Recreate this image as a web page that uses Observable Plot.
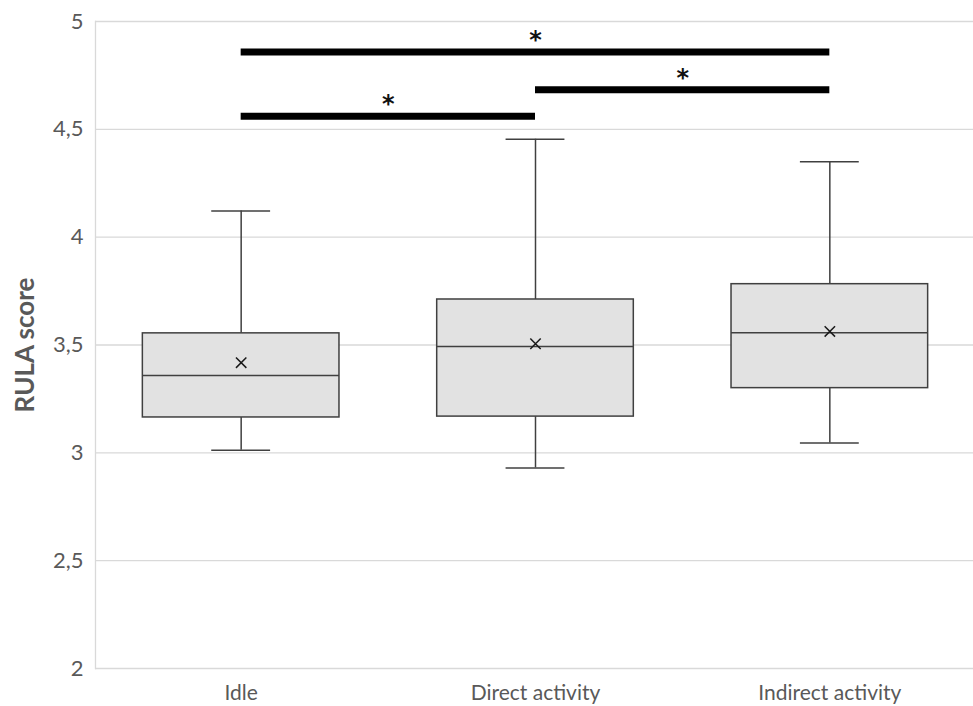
<!DOCTYPE html>
<html>
<head>
<meta charset="utf-8">
<script src="https://cdn.jsdelivr.net/npm/d3@7"></script>
<script src="https://cdn.jsdelivr.net/npm/@observablehq/plot@0.6"></script>
<style>
  html, body { margin: 0; padding: 0; background: #fff; overflow: hidden; }
</style>
</head>
<body>
<div id="chart"></div>
<script>
// ---- data ----
const groups = ["Idle", "Direct activity", "Indirect activity"];
const whiskerLow = [3.012, 2.930, 3.046];
const q1 = [3.164, 3.168, 3.300];
const median = [3.359, 3.493, 3.557];
const q3 = [3.554, 3.711, 3.782];
const whiskerHigh = [4.121, 4.454, 4.350];
const means = [3.418, 3.506, 3.563];

const sigFrom = ["Idle", "Direct activity", "Idle"];
const sigTo = ["Direct activity", "Indirect activity", "Indirect activity"];
const sigY = [4.561, 4.684, 4.858];
const sigMark = ["*", "*", "*"];

const yTicks = [2, 2.5, 3, 3.5, 4, 4.5, 5];
const yLabel = "RULA score";

// ---- tables built from the arrays ----
const boxes = groups.map((g, i) => ({
  i, g, lo: whiskerLow[i], q1: q1[i], med: median[i], q3: q3[i], hi: whiskerHigh[i], mean: means[i]
}));
const sig = sigFrom.map((f, k) => ({
  a: groups.indexOf(f), b: groups.indexOf(sigTo[k]), y: sigY[k], t: sigMark[k]
}));

const BOX = 0.334, CAP = 0.1;
const ink = "#404040";
const textCol = "#595959";

const chart = Plot.plot({
  width: 973,
  height: 706,
  marginLeft: 95,
  marginRight: 0,
  marginTop: 21,
  marginBottom: 38,
  style: { fontFamily: "Lato, 'Noto Sans', sans-serif", fontSize: "22px", background: "#fff", color: textCol },
  x: { type: "linear", domain: [-0.5, 2.5], range: [93.5, 976.5] },
  y: { domain: [2, 5] },
  marks: [
    Plot.ruleY(yTicks, { stroke: "#d9d9d9", strokeWidth: 1.3 }),
    Plot.frame({ anchor: "left", stroke: "#d9d9d9", strokeWidth: 1.3 }),
    // whiskers
    Plot.ruleX(boxes, { x: "i", y1: "q3", y2: "hi", stroke: ink, strokeWidth: 1.5 }),
    Plot.ruleX(boxes, { x: "i", y1: "lo", y2: "q1", stroke: ink, strokeWidth: 1.5 }),
    Plot.ruleY(boxes, { y: "hi", x1: d => d.i - CAP, x2: d => d.i + CAP, stroke: ink, strokeWidth: 1.5 }),
    Plot.ruleY(boxes, { y: "lo", x1: d => d.i - CAP, x2: d => d.i + CAP, stroke: ink, strokeWidth: 1.5 }),
    // boxes
    Plot.rectY(boxes, { x1: d => d.i - BOX, x2: d => d.i + BOX, y1: "q1", y2: "q3", fill: "#e2e2e2", stroke: ink, strokeWidth: 1.5 }),
    Plot.ruleY(boxes, { y: "med", x1: d => d.i - BOX, x2: d => d.i + BOX, stroke: ink, strokeWidth: 1.5 }),
    Plot.dot(boxes, { x: "i", y: "mean", symbol: "times", r: 4.8, stroke: "#1a1a1a", strokeWidth: 1.5 }),
    // significance bars
    Plot.ruleY(sig, { y: "y", x1: "a", x2: "b", stroke: "#000", strokeWidth: 7 }),
    Plot.text(sig, { x: d => (d.a + d.b) / 2, y: "y", text: "t", lineAnchor: "bottom", dy: -4, fontSize: 24, fontWeight: "bold", fontFamily: "DejaVu Sans", fill: "#111" }),
    // axes
    Plot.axisY({ ticks: yTicks, tickSize: 0, tickPadding: 12, tickFormat: d => String(d).replace(".", ","), fontSize: 22, fill: textCol, label: null }),
    Plot.axisX({ ticks: [0, 1, 2], tickSize: 0, tickPadding: 17, tickFormat: i => groups[i], fontSize: 21, fill: textCol, label: null }),
    Plot.text([yLabel], { frameAnchor: "left", text: d => d, rotate: -90, dx: -70, textAnchor: "middle", lineAnchor: "middle", fontWeight: "bold", fontSize: 26, fill: textCol })
  ]
});
document.getElementById("chart").appendChild(chart);
</script>
</body>
</html>
